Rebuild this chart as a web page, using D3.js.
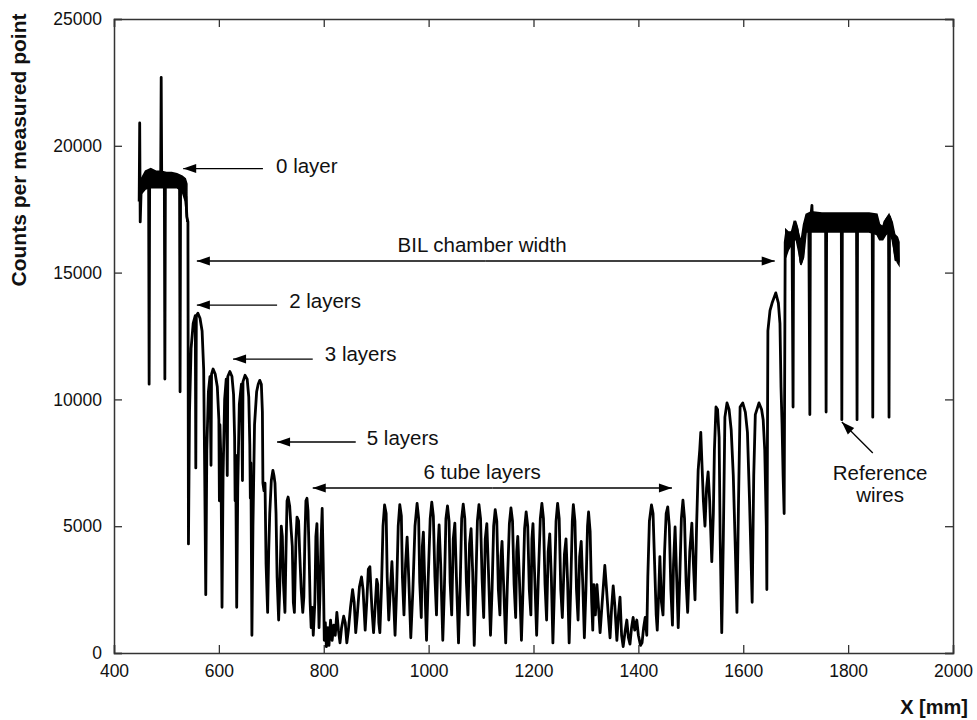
<!DOCTYPE html>
<html>
<head>
<meta charset="utf-8">
<script src="https://cdn.jsdelivr.net/npm/d3@7"></script>
<style>
  html, body { margin: 0; padding: 0; background: #fff; }
  svg { display: block; font-family: "Liberation Sans", Arial, Helvetica, sans-serif; }
</style>
</head>
<body>
<svg id="chart" width="977" height="720"></svg>
<script>
// ---------------- DATA (X in mm, counts per measured point) ----------------
const xTicks = [400, 600, 800, 1000, 1200, 1400, 1600, 1800, 2000];
const yTicks = [0, 5000, 10000, 15000, 20000, 25000];

const leftPlateau = [
  [448, 17800], [449, 20900], [450, 17000], [452, 18400], [455, 18700], [460, 18700],
  [466, 18600], [467, 10600], [468, 18600], [475, 18700], [485, 18800], [489, 18700],
  [490, 22700], [491, 18700], [496, 18600], [497, 10800], [498, 18600], [505, 18700],
  [515, 18700], [525, 18500], [526, 10300], [527, 18400], [533, 18300], [537, 18000],
  [539, 17200], [541, 17000], [542, 4300]
];
const twoLayersLeft = [
  [544, 9500], [547, 12000], [551, 13000], [555, 13300], [556, 7300], [557, 13300],
  [560, 13400], [564, 13200], [568, 12700], [571, 11200], [573, 7000], [575, 2300]
];
const threeLayersLeft = [
  [577, 8000], [580, 10300], [583, 10900], [585, 7400], [586, 11000], [589, 11200],
  [593, 11000], [597, 10500], [600, 9200], [601, 6000], [602, 9000], [604, 7500], [606, 1800],
  [608, 7000], [611, 10000], [614, 10800], [616, 7000], [617, 10900], [621, 11100],
  [625, 10900], [628, 10200], [630, 8500], [631, 6000], [632, 7800], [634, 1800],
  [636, 6500], [639, 9800], [643, 10600], [645, 6800], [646, 10700], [650, 10950],
  [654, 10800], [657, 10100], [659, 8200], [660, 6100], [661, 7500], [663, 700],
  [665, 5000], [668, 9000], [672, 10300], [675, 10600], [678, 10750], [681, 10600],
  [683, 9500], [684, 6700]
];
const fiveLayersLeft = [
  [686, 6400], [688, 6700], [690, 3500], [693, 1600], [695, 4000], [697, 5500],
  [700, 6800], [703, 7200], [705, 7000], [707, 6700], [709, 5500], [711, 3000],
  [714, 1300], [716, 2500], [719, 5000], [721, 4600], [723, 2800], [726, 1600],
  [728, 4000], [730, 6000], [732, 6150], [735, 5800], [738, 4800], [740, 4200],
  [742, 2000], [744, 1600], [747, 4500], [749, 5360], [752, 5200], [754, 4000],
  [757, 2500], [760, 1600], [762, 2200], [764, 4500], [766, 6000], [768, 6100],
  [770, 5600], [772, 4000], [774, 2000], [776, 1000], [778, 1800], [780, 700],
  [783, 2000], [785, 4600], [787, 5100], [789, 3000], [791, 1000], [793, 2500],
  [795, 4500], [797, 5700], [799, 3500], [801, 500]
];
const lowLeft = [
  [803, 1200], [805, 250], [808, 1000], [810, 300], [813, 1300], [816, 500],
  [819, 1100], [822, 700], [825, 1600], [828, 900], [831, 400], [834, 1000],
  [838, 1450], [841, 1200], [844, 400], [847, 900], [851, 1800], [855, 2500],
  [858, 2000], [861, 800], [864, 1500], [868, 2600], [872, 3000], [875, 2500],
  [879, 900], [882, 2000], [885, 3300], [888, 3400], [890, 2500], [892, 1700],
  [895, 800], [898, 1800], [901, 2900], [903, 2700], [905, 1200], [907, 800]
];
const sixLayers = [
  [910, 2500], [913, 5000], [916, 5840], [919, 5500], [921, 3000], [924, 1300],
  [927, 2500], [930, 3600], [933, 2200], [936, 700], [939, 2500], [942, 5000],
  [945, 5850], [948, 5400], [950, 3000], [953, 1500], [956, 3500], [959, 4570],
  [962, 3000], [966, 600], [970, 2500], [974, 5000], [978, 5900], [981, 5300],
  [983, 2800], [986, 1400], [988, 4200], [990, 4770], [992, 3200], [996, 500],
  [999, 2800], [1003, 5300], [1006, 5950], [1009, 5400], [1012, 3000], [1015, 1500],
  [1018, 4200], [1020, 5050], [1023, 3500], [1027, 500], [1030, 2500], [1033, 5300],
  [1036, 5800], [1039, 5200], [1041, 2800], [1044, 1500], [1047, 4500], [1050, 5120],
  [1053, 3000], [1057, 400], [1060, 2500], [1063, 5300], [1066, 5870], [1069, 5300],
  [1072, 2800], [1075, 1500], [1078, 4300], [1081, 4900], [1084, 3200], [1087, 300],
  [1090, 2700], [1093, 5200], [1096, 5850], [1099, 5300], [1102, 2900], [1105, 1400],
  [1108, 4500], [1111, 5100], [1114, 3300], [1118, 700], [1121, 2500], [1124, 5000],
  [1127, 5650], [1130, 5200], [1133, 2500], [1136, 1500], [1138, 3800], [1140, 4400],
  [1143, 2700], [1147, 400], [1150, 2600], [1154, 5100], [1157, 5720], [1160, 5200],
  [1163, 2700], [1166, 1400], [1168, 4000], [1170, 4600], [1173, 3000], [1177, 500],
  [1180, 2500], [1183, 4900], [1186, 5560], [1189, 5000], [1192, 2500], [1195, 1500],
  [1197, 4500], [1199, 5100], [1202, 3200], [1206, 700], [1209, 2800], [1213, 5300],
  [1216, 5900], [1219, 5300], [1222, 2700], [1225, 1300], [1228, 4000], [1231, 4700],
  [1234, 3000], [1237, 400], [1240, 2600], [1243, 5200], [1246, 5900], [1249, 5300],
  [1252, 2500], [1255, 1400], [1259, 3900], [1262, 4500], [1265, 2800], [1268, 400],
  [1271, 2600], [1274, 5200], [1276, 5850], [1279, 5200], [1282, 2500], [1285, 1300],
  [1288, 3800], [1291, 4400], [1294, 2700], [1297, 600], [1300, 2500], [1303, 5000],
  [1305, 5560], [1308, 4800], [1311, 2000]
];
const lowRight = [
  [1313, 900], [1315, 2700], [1318, 1500], [1321, 2700], [1324, 1800], [1327, 800],
  [1331, 2000], [1336, 3450], [1339, 2600], [1343, 1400], [1346, 600], [1349, 1800],
  [1352, 2650], [1355, 1900], [1359, 500], [1362, 1500], [1365, 2200], [1368, 700],
  [1371, 250], [1375, 900], [1378, 1300], [1381, 600], [1384, 350], [1387, 1000],
  [1390, 1400], [1393, 900], [1397, 1300], [1400, 700], [1404, 300], [1407, 400],
  [1410, 1000], [1413, 1400], [1416, 700], [1418, 3000], [1421, 5200]
];
const sixToTwoRight = [
  [1425, 5840], [1428, 5500], [1431, 3500], [1434, 1500], [1436, 900], [1439, 2500],
  [1441, 3800], [1444, 2000], [1447, 1500], [1450, 4000], [1453, 5500], [1456, 5760],
  [1459, 5000], [1462, 2500], [1465, 1100], [1467, 3500], [1470, 4970], [1473, 3000],
  [1476, 1000], [1479, 3000], [1482, 5300], [1485, 6030], [1488, 5300], [1491, 2800],
  [1494, 1600], [1498, 4000], [1502, 5120], [1505, 3500], [1508, 2100], [1511, 5000],
  [1514, 7200], [1517, 8000], [1519, 8700], [1521, 7600], [1524, 6000], [1527, 5000],
  [1530, 6500], [1533, 7140], [1536, 6000], [1540, 3600], [1543, 5500], [1545, 8000],
  [1548, 9700], [1551, 9600], [1554, 8500], [1556, 4500], [1559, 800], [1562, 4500],
  [1565, 9300], [1569, 9860], [1573, 9600], [1577, 8800], [1581, 7000], [1585, 4000],
  [1588, 1600], [1591, 6000], [1594, 9700], [1599, 9860], [1604, 9500], [1608, 8700],
  [1612, 6000], [1617, 2000], [1620, 7000], [1623, 9400], [1630, 9860], [1635, 9600],
  [1638, 9200], [1641, 8000], [1644, 5000], [1645, 2500], [1647, 12700], [1651, 13500],
  [1655, 13800], [1662, 14200], [1667, 13800], [1670, 13000], [1672, 10500], [1674, 9000],
  [1676, 7000], [1678, 5500]
];
const rightPlateau = [
  [1680, 16200], [1682, 16500], [1685, 16400], [1689, 16500], [1693, 16600], [1695, 9700],
  [1696, 16700], [1699, 17000], [1703, 16700], [1707, 16000], [1710, 15400], [1713, 15600],
  [1717, 16800], [1720, 17000], [1725, 17000], [1727, 9400], [1728, 17000], [1731, 17650],
  [1732, 17000], [1740, 17000], [1757, 17000], [1758, 9500], [1759, 17000], [1770, 17000],
  [1787, 17000], [1788, 9200], [1789, 17000], [1800, 17000], [1816, 17000], [1817, 9200],
  [1818, 17000], [1830, 17000], [1846, 16900], [1847, 9300], [1848, 16900], [1855, 16900],
  [1860, 16500], [1865, 16600], [1870, 17000], [1877, 17200], [1878, 9300], [1879, 17200],
  [1883, 16800], [1887, 16200], [1891, 15500], [1894, 16200], [1896, 15400]
];

// noise bands (mm, low, high) on the plateaus
const leftBand = [
  [452, 18100, 18700], [460, 18300, 19000], [470, 18350, 19100], [480, 18350, 19000],
  [490, 18350, 19000], [500, 18350, 18950], [510, 18350, 18950], [520, 18350, 18900],
  [530, 18200, 18800], [536, 17800, 18700], [539, 17000, 18500]
];
const rightBand = [
  [1681, 15600, 16700], [1686, 15900, 16600], [1692, 16100, 16600], [1697, 16300, 17000],
  [1701, 16300, 16900], [1706, 15800, 16500], [1710, 15300, 16200], [1715, 15600, 16900],
  [1720, 16600, 17300], [1730, 16600, 17400], [1750, 16600, 17350], [1780, 16600, 17350],
  [1810, 16600, 17350], [1840, 16600, 17350], [1855, 16500, 17300], [1860, 16300, 16900],
  [1866, 16300, 16800], [1872, 16500, 17100], [1878, 16600, 17300], [1884, 16300, 17000],
  [1889, 15700, 16500], [1894, 15400, 16400], [1897, 15300, 16200]
];

// annotations, in data units
const arrowNotes = [
  { text: "0 layer",  tx: 709, ty: 18930, from: [684, 19100], to: [532, 19100] },
  { text: "2 layers", tx: 734, ty: 13600, from: [711, 13720], to: [558, 13720] },
  { text: "3 layers", tx: 802, ty: 11510, from: [779, 11590], to: [627, 11590] },
  { text: "5 layers", tx: 882, ty: 8200,  from: [861, 8320],  to: [711, 8320] }
];
const spanNotes = [
  { text: "BIL chamber width", tx: 1102, ty: 15810, x1: 558, x2: 1660, y: 15457 },
  { text: "6 tube layers",     tx: 1102, ty: 6860,  x1: 779, x2: 1464, y: 6506 }
];
const refNote = { lines: ["Reference", "wires"], tx: 1861, ty: [6821, 5954], from: [1847, 7886], to: [1788, 9108] };

// ---------------- CHART ----------------
const svg = d3.select("#chart");
const L = 114, R = 953, T = 19, B = 653;
const x = d3.scaleLinear().domain([400, 2000]).range([L, R]);
const y = d3.scaleLinear().domain([0, 25000]).range([B, T]);

const trace = [].concat(leftPlateau, twoLayersLeft, threeLayersLeft, fiveLayersLeft, lowLeft,
  sixLayers, lowRight, sixToTwoRight, rightPlateau);

const area = d3.area().x(d => x(d[0])).y0(d => y(d[1])).y1(d => y(d[2]));
[leftBand, rightBand].forEach(b => {
  svg.append("path").attr("d", area(b)).attr("fill", "#000").attr("stroke", "#000").attr("stroke-width", 1.5);
});

const line = d3.line().x(d => x(d[0])).y(d => y(d[1]));
svg.append("path").attr("d", line(trace))
  .attr("fill", "none").attr("stroke", "#000").attr("stroke-width", 2.8)
  .attr("stroke-linejoin", "round");

// axes (frame with inward ticks)
const axisColor = "#333";
const gB = svg.append("g").attr("transform", `translate(0,${B})`)
  .call(d3.axisBottom(x).tickValues(xTicks).tickSize(-8).tickPadding(12).tickFormat(d3.format("d")));
const gT = svg.append("g").attr("transform", `translate(0,${T})`)
  .call(d3.axisTop(x).tickValues(xTicks).tickSize(-8).tickFormat(""));
const gL = svg.append("g").attr("transform", `translate(${L},0)`)
  .call(d3.axisLeft(y).tickValues(yTicks).tickSize(-8).tickPadding(12).tickFormat(d3.format("d")));
const gR = svg.append("g").attr("transform", `translate(${R},0)`)
  .call(d3.axisRight(y).tickValues(yTicks).tickSize(-8).tickFormat(""));
[gB, gT, gL, gR].forEach(g => {
  g.select(".domain").attr("stroke", axisColor).attr("stroke-width", 1.5);
  g.selectAll(".tick line").attr("stroke", axisColor).attr("stroke-width", 1.3);
  g.selectAll("text").attr("fill", "#111").attr("font-size", 17.5)
    .attr("font-family", "'Liberation Sans', Arial, sans-serif");
});
gB.selectAll(".tick text").attr("dy", "0.71em");

// axis titles
svg.append("text").attr("x", 968).attr("y", 714).attr("text-anchor", "end")
  .attr("font-size", 20).attr("font-weight", "bold").attr("fill", "#111").text("X [mm]");
svg.append("text").attr("transform", "translate(26,150) rotate(-90)")
  .attr("text-anchor", "middle").attr("font-size", 21).attr("font-weight", "bold")
  .attr("fill", "#111").text("Counts per measured point");

// arrows
function arrowHead(px, py, dx, dy) {
  const len = Math.hypot(dx, dy), ux = dx / len, uy = dy / len;
  const hl = 13, hw = 4.5;
  const bx = px - ux * hl, by = py - uy * hl;
  return `M${px},${py}L${bx - uy * hw},${by + ux * hw}L${bx + uy * hw},${by - ux * hw}Z`;
}
function drawArrow(x1, y1, x2, y2) {
  svg.append("line").attr("x1", x1).attr("y1", y1).attr("x2", x2).attr("y2", y2)
    .attr("stroke", "#000").attr("stroke-width", 1.3);
  svg.append("path").attr("d", arrowHead(x2, y2, x2 - x1, y2 - y1)).attr("fill", "#000");
}
const noteFont = 20.5;
arrowNotes.forEach(n => {
  drawArrow(x(n.from[0]), y(n.from[1]), x(n.to[0]), y(n.to[1]));
  svg.append("text").attr("x", x(n.tx)).attr("y", y(n.ty)).attr("font-size", noteFont)
    .attr("fill", "#111").text(n.text);
});
spanNotes.forEach(n => {
  const mid = (x(n.x1) + x(n.x2)) / 2;
  drawArrow(mid, y(n.y), x(n.x1), y(n.y));
  drawArrow(mid, y(n.y), x(n.x2), y(n.y));
  svg.append("text").attr("x", x(n.tx)).attr("y", y(n.ty)).attr("text-anchor", "middle")
    .attr("font-size", noteFont).attr("fill", "#111").text(n.text);
});
drawArrow(x(refNote.from[0]), y(refNote.from[1]), x(refNote.to[0]), y(refNote.to[1]));
refNote.lines.forEach((t, i) => {
  svg.append("text").attr("x", x(refNote.tx)).attr("y", y(refNote.ty[i])).attr("text-anchor", "middle")
    .attr("font-size", noteFont).attr("fill", "#111").text(t);
});
</script>
</body>
</html>
